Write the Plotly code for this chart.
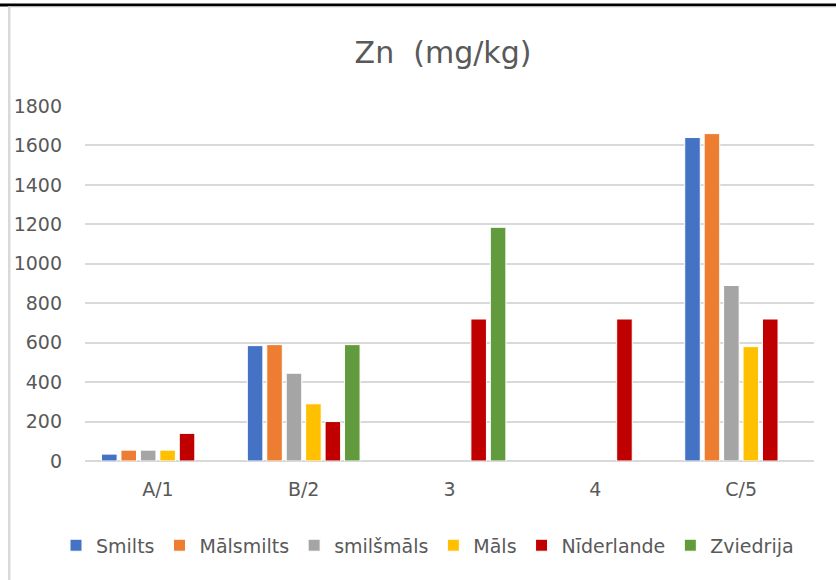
import plotly.graph_objects as go

# Zinc concentration (mg/kg) by class, per soil type / reference country
categories = ["A/1", "B/2", "3", "4", "C/5"]
series_names = ["Smilts", "Mālsmilts", "smilšmāls", "Māls", "Nīderlande", "Zviedrija"]
smilts = [35, 585, None, None, 1640]
malsmilts = [55, 590, None, None, 1660]
smilsmals = [55, 445, None, None, 890]
mals = [55, 290, None, None, 580]
niderlande = [140, 200, 720, 720, 720]
zviedrija = [None, 590, 1185, None, None]
y_ticks = [0, 200, 400, 600, 800, 1000, 1200, 1400, 1600, 1800]

series_values = [smilts, malsmilts, smilsmals, mals, niderlande, zviedrija]
colors = ["#4472C4", "#ED7D31", "#A5A5A5", "#FFC000", "#C00000", "#629B3E"]

W, H = 836, 580
L, R = 85, 814          # plot area, px
TOP, BOT = 106, 460.7

FONT = "DejaVu Sans"
GREY = "#595959"

fig = go.Figure()
for name, vals, col in zip(series_names, series_values, colors):
    fig.add_trace(go.Bar(
        x=categories, y=vals, name=name,
        marker=dict(color=col, line=dict(color="white", width=1)),
    ))


def px_x(px):
    return (px - L) / (R - L)


def px_y(py):
    return (BOT - py) / (BOT - TOP)


shapes = [
    # dark rule across the top
    dict(type="rect", xref="paper", yref="paper",
         x0=px_x(0), x1=px_x(W), y0=px_y(6.5), y1=px_y(3.5),
         fillcolor="black", line_width=0, layer="above"),
    # chart frame: top and left edges
    dict(type="line", xref="paper", yref="paper",
         x0=px_x(8), x1=px_x(W), y0=px_y(7), y1=px_y(7),
         line=dict(color="#d9d9d9", width=1)),
    dict(type="rect", xref="paper", yref="paper",
         x0=px_x(8), x1=px_x(10.5), y0=px_y(H), y1=px_y(6.5),
         fillcolor="#d9d9d9", line_width=0),
]

fig.update_layout(
    width=W, height=H,
    margin=dict(l=L, r=W - R, t=TOP, b=H - BOT, pad=0, autoexpand=False),
    paper_bgcolor="white", plot_bgcolor="white",
    barmode="group", bargap=0.2, bargroupgap=0.2,
    font=dict(family=FONT, color=GREY, size=19),
    title=dict(text="Zn  (mg/kg)", x=px_x(443), xref="paper", xanchor="center",
               y=1 - 52 / H, yref="container", yanchor="middle",
               font=dict(family=FONT, size=30, color=GREY)),
    xaxis=dict(showgrid=False, showline=False, ticks="", zeroline=False,
               tickfont=dict(size=19, color=GREY), ticklabelstandoff=15),
    yaxis=dict(range=[0, 1800], tickvals=y_ticks, showgrid=True,
               gridcolor="#d9d9d9", gridwidth=1.5, zeroline=True,
               zerolinecolor="#d9d9d9", zerolinewidth=1.5, showline=False,
               ticks="", tickfont=dict(size=19, color=GREY),
               ticklabelstandoff=22),
    legend=dict(orientation="h", x=px_x(56), xanchor="left",
                y=px_y(545), yanchor="middle", font=dict(size=19, color=GREY),
                itemwidth=30, tracegroupgap=0, traceorder="normal"),
    shapes=shapes,
)

fig.write_html("out.html")
